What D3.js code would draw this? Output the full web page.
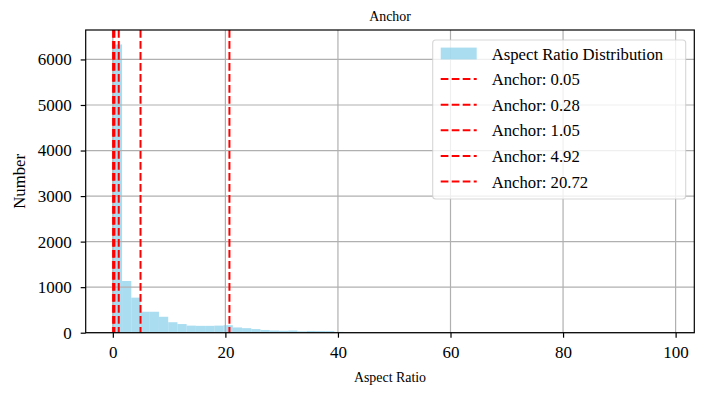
<!DOCTYPE html>
<html>
<head>
<meta charset="utf-8">
<script src="https://cdn.jsdelivr.net/npm/d3@7/dist/d3.min.js"></script>
<style>
  html, body { margin: 0; padding: 0; background: #fff; }
  svg { display: block; }
  svg text { font-family: "Liberation Serif", "Times New Roman", serif !important; fill: #000; }
</style>
</head>
<body>
<svg id="chart" width="710" height="395"></svg>
<script>
// ---- data ----
const binWidth = 1.64;
const binCounts = [6330, 1135, 770, 460, 460, 350, 230, 190, 155, 150,
                   150, 155, 165, 115, 100, 80, 60, 48, 42, 48,
                   30, 38, 36, 35, 18, 15, 12, 8, 6, 5,
                   5, 4, 4, 3, 3, 3, 2, 2, 2, 2,
                   2, 1, 1, 1, 1, 1, 1, 1, 1, 1,
                   1, 1, 1, 1, 1, 1, 1, 1, 1, 1];
const anchors = [0.05, 0.28, 1.05, 4.92, 20.72];
const xTicks = [0, 20, 40, 60, 80, 100];
const yTicks = [0, 1000, 2000, 3000, 4000, 5000, 6000];
const titleText = "Anchor";
const xLabel = "Aspect Ratio";
const yLabel = "Number";
const histLabel = "Aspect Ratio Distribution";

// ---- layout ----
const svg = d3.select("#chart");
const L = 85.7, R = 694.3, T = 30, B = 332.7;
const FONT = '"Liberation Serif", "Times New Roman", serif';
const bins = binCounts.map((c, i) => ({x0: i * binWidth, x1: (i + 1) * binWidth, n: c}));
const dataMax = bins[bins.length - 1].x1;
const pad = dataMax * 0.05;
const x = d3.scaleLinear().domain([-pad + 0.1, dataMax + pad]).range([L, R]);
const yMax = d3.max(binCounts) * 1.05;
const y = d3.scaleLinear().domain([0, yMax]).range([B, T]);

// bars
svg.append("g").selectAll("rect").data(bins).enter().append("rect")
  .attr("x", d => x(d.x0))
  .attr("width", d => x(d.x1) - x(d.x0))
  .attr("y", d => y(d.n))
  .attr("height", d => B - y(d.n))
  .attr("fill", "skyblue")
  .attr("fill-opacity", 0.7);

// grid (above patches, below lines)
const grid = svg.append("g").attr("stroke", "#b0b0b0").attr("stroke-width", 1.2);
grid.selectAll("line.gx").data(xTicks).enter().append("line")
  .attr("x1", d => x(d)).attr("x2", d => x(d)).attr("y1", T).attr("y2", B);
grid.selectAll("line.gy").data(yTicks).enter().append("line")
  .attr("x1", L).attr("x2", R).attr("y1", d => y(d)).attr("y2", d => y(d));

// anchor lines
svg.append("g").selectAll("line").data(anchors).enter().append("line")
  .attr("x1", d => x(d)).attr("x2", d => x(d)).attr("y1", T).attr("y2", B)
  .attr("stroke", "red").attr("stroke-width", 2)
  .attr("stroke-dasharray", "7.7,3.3");

// spines
svg.append("rect").attr("x", L).attr("y", T).attr("width", R - L).attr("height", B - T)
  .attr("fill", "none").attr("stroke", "#000").attr("stroke-width", 1.2);

// axes
const xAxis = d3.axisBottom(x).tickValues(xTicks).tickSize(5).tickPadding(5).tickFormat(d3.format("d"));
const gx = svg.append("g").attr("transform", `translate(0,${B})`).call(xAxis);
const yAxis = d3.axisLeft(y).tickValues(yTicks).tickSize(5).tickPadding(9).tickFormat(d3.format("d"));
const gy = svg.append("g").attr("transform", `translate(${L},0)`).call(yAxis);
[gx, gy].forEach(g => {
  g.attr("font-family", null).attr("font-size", null);
  g.select(".domain").remove();
  g.selectAll(".tick line").attr("stroke", "#000").attr("stroke-width", 1.2);
  g.selectAll(".tick text").style("font-family", FONT).style("font-size", "17px").attr("fill", "#000");
});
gx.selectAll(".tick text").attr("y", 25.3).attr("dy", "0");

// titles
svg.append("text").attr("x", (L + R) / 2).attr("y", 21).attr("text-anchor", "middle")
  .style("font-size", "13.9px").text(titleText);
svg.append("text").attr("x", (L + R) / 2).attr("y", 382).attr("text-anchor", "middle")
  .style("font-size", "13.9px").text(xLabel);
svg.append("text").attr("transform", `translate(25,${(T + B) / 2}) rotate(-90)`).attr("text-anchor", "middle")
  .style("font-size", "16.7px").text(yLabel);

// legend
const lg = svg.append("g");
lg.append("rect").attr("x", 432.7).attr("y", 40).attr("width", 253).attr("height", 159)
  .attr("rx", 3).attr("fill", "#fff").attr("fill-opacity", 0.8)
  .attr("stroke", "#cccccc").attr("stroke-opacity", 0.8).attr("stroke-width", 1.1);
const items = [{type: "patch", label: histLabel}].concat(anchors.map(a => ({type: "line", label: "Anchor: " + a.toFixed(2)})));
const rowY = i => 53.5 + i * 25.6;
items.forEach((it, i) => {
  const cy = rowY(i);
  if (it.type === "patch") {
    lg.append("rect").attr("x", 440.7).attr("y", cy - 5.9).attr("width", 36).attr("height", 11.8)
      .attr("fill", "skyblue").attr("fill-opacity", 0.7);
  } else {
    lg.append("line").attr("x1", 440.7).attr("x2", 476.7).attr("y1", cy).attr("y2", cy)
      .attr("stroke", "red").attr("stroke-width", 2).attr("stroke-dasharray", "7.7,3.3");
  }
  lg.append("text").attr("x", 491.7).attr("y", cy + 6).style("font-size", "16.7px").text(it.label);
});
</script>
</body>
</html>
